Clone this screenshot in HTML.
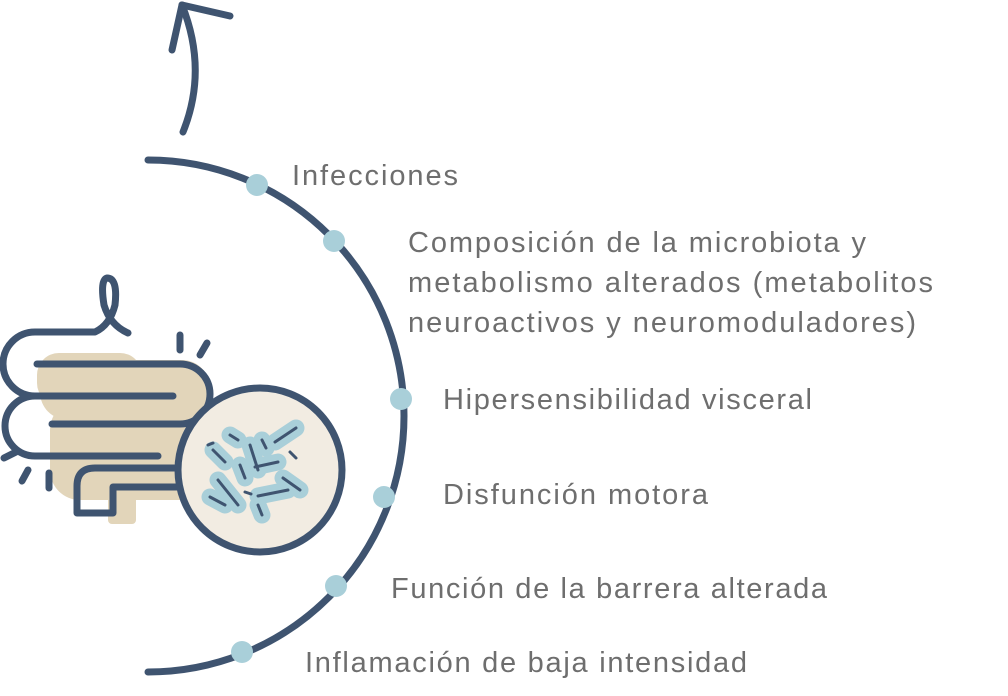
<!DOCTYPE html>
<html><head><meta charset="utf-8"><style>
html,body{margin:0;padding:0;background:#fff;}
svg{display:block}
text{font-family:"Liberation Sans",sans-serif;font-size:29px;fill:#6e6e6e;}
</style></head><body>
<svg width="1008" height="696" viewBox="0 0 1008 696" xmlns="http://www.w3.org/2000/svg">
<g fill="none" stroke="#3f5470" stroke-width="7" stroke-linecap="round" stroke-linejoin="round">
<path d="M148,160 A256,256 0 0 1 148,672"/>
<path d="M183,132 Q208,70 182,5"/>
<path d="M182,5 L230,16"/>
<path d="M182,5 L172,50"/>
</g>
<g fill="#a9cfd9">
<circle cx="257" cy="185" r="11"/>
<circle cx="334" cy="241" r="11"/>
<circle cx="401" cy="399" r="11"/>
<circle cx="384" cy="497" r="11"/>
<circle cx="336" cy="586" r="11"/>
<circle cx="242" cy="652" r="11"/>
</g>
<g fill="#e2d5ba">
<rect x="37" y="353" width="105" height="52" rx="22"/>
<rect x="40" y="360" width="170" height="60" rx="28"/>
<rect x="50" y="400" width="170" height="100" rx="30"/>
<rect x="78" y="430" width="110" height="60" rx="20"/>
<rect x="108" y="470" width="28" height="54" rx="4"/>
</g>
<g fill="none" stroke="#3f5470" stroke-width="7" stroke-linecap="round" stroke-linejoin="round">
<path d="M128,333 Q110,325 104,305 Q100,280 107,278 Q118,278 115,305 Q110,325 95,332 H35 A32,32 0 0 0 35,396 H173"/>
<path d="M37,364 H180 A30,30 0 0 1 180,424 H52"/>
<path d="M35,396 A30,30 0 0 0 35,456 H158"/>
<path d="M185,468 H95 Q77,468 77,486 V513 H113 V487 H185"/>
<path d="M180,335 V350"/><path d="M207,343 L200,355"/>
<path d="M4,458 L16,452"/><path d="M22,481 L28,470"/><path d="M49,473 V488"/>
</g>
<circle cx="260" cy="470" r="82" fill="#f2ece2" stroke="#3f5470" stroke-width="7"/>
<g stroke-linecap="round">
<g stroke="#a9cfd9" stroke-width="17">
<path d="M275,442 L296,428"/><path d="M250,445 L258,470"/><path d="M213,450 L225,462"/>
<path d="M230,435 L238,440"/><path d="M255,467 L278,462"/><path d="M283,478 L300,490"/>
<path d="M218,480 L238,505"/><path d="M210,497 L225,505"/><path d="M258,496 L288,490"/>
<path d="M240,465 L245,478"/><path d="M262,440 L266,448"/><path d="M258,505 L262,515"/>
</g>
<g stroke="#3f5470" stroke-width="3" fill="none">
<path d="M275,442 L296,428"/><path d="M250,445 L258,470"/><path d="M213,450 L225,462"/>
<path d="M230,435 L238,440"/><path d="M255,467 L278,462"/><path d="M283,478 L300,490"/>
<path d="M218,480 L238,505"/><path d="M210,497 L225,505"/><path d="M258,496 L288,490"/>
<path d="M240,465 L245,478"/><path d="M262,440 L266,448"/><path d="M258,505 L262,515"/>
<path d="M208,445 L213,443"/><path d="M290,452 L296,458"/><path d="M245,492 L251,494"/>
</g>
</g>
<text x="292" y="185" textLength="166">Infecciones</text>
<text x="408" y="252" textLength="458">Composición de la microbiota y</text>
<text x="408" y="292" textLength="525">metabolismo alterados (metabolitos</text>
<text x="408" y="332" textLength="508">neuroactivos y neuromoduladores)</text>
<text x="443" y="409" textLength="369">Hipersensibilidad visceral</text>
<text x="443" y="504" textLength="265">Disfunción motora</text>
<text x="391" y="598" textLength="436">Función de la barrera alterada</text>
<text x="305" y="672" textLength="442">Inflamación de baja intensidad</text>
</svg>
</body></html>
